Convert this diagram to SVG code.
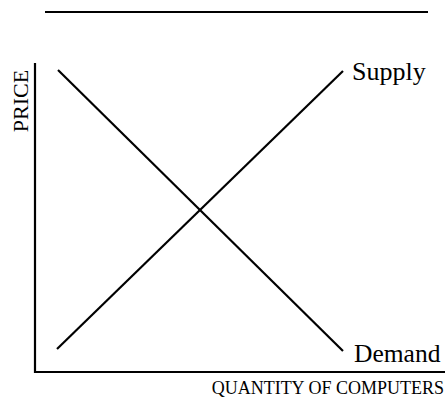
<svg xmlns="http://www.w3.org/2000/svg" width="445" height="398" viewBox="0 0 445 398">
<style>
.ln{stroke:#000;stroke-width:2.2;fill:none;stroke-linecap:butt}
.t{font-family:"Liberation Serif","Times New Roman",serif;fill:#000}
</style>
<rect width="445" height="398" fill="#fff"/>
<g id="frame">
<line class="ln" x1="45" y1="12" x2="428" y2="12" stroke-width="2.6"/>
<line class="ln" x1="35" y1="63" x2="35" y2="373"/>
<line class="ln" x1="34" y1="372" x2="445" y2="372"/>
</g>
<g id="connectors">
<line class="ln" x1="58" y1="70" x2="343" y2="351"/>
<line class="ln" x1="57" y1="349" x2="343" y2="71"/>
</g>
<g id="supply"><text class="t" x="352" y="80" font-size="26">Supply</text></g>
<g id="demand"><text class="t" x="354" y="362" font-size="25.5">Demand</text></g>
<g id="price"><text class="t" transform="translate(28,101) rotate(-90)" text-anchor="middle" font-size="22">PRICE</text></g>
<g id="quantity"><text class="t" x="444" y="394" text-anchor="end" font-size="18">QUANTITY OF COMPUTERS</text></g>
</svg>
